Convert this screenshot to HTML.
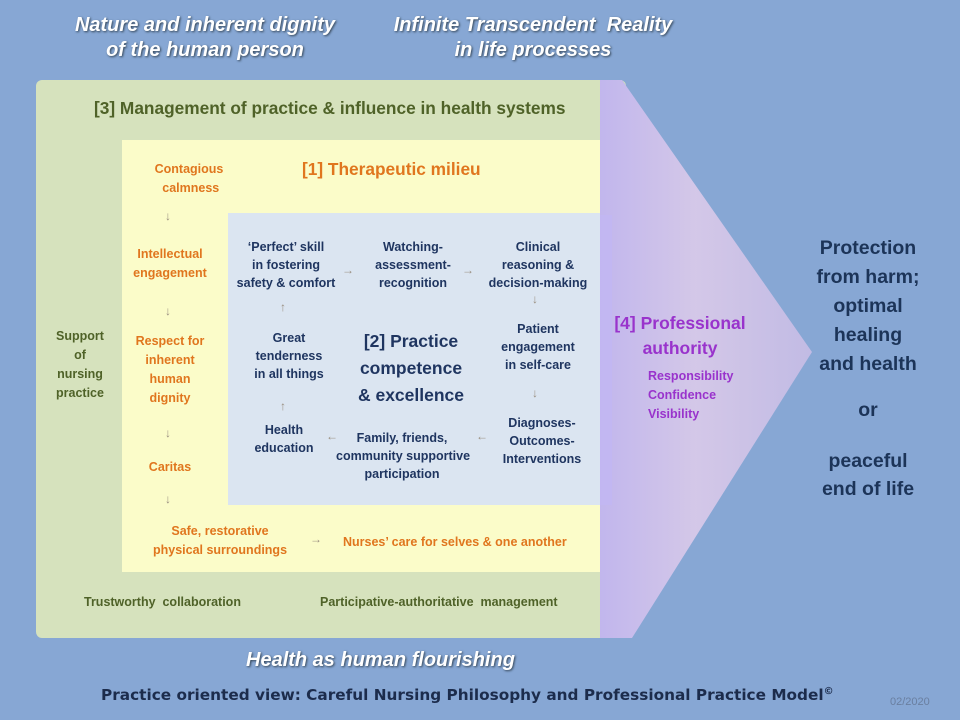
<!DOCTYPE html>
<html><head><meta charset="utf-8"><style>
body{margin:0;width:960px;height:720px;overflow:hidden;background:#87a7d4;font-family:"Liberation Sans",sans-serif;}
.t{position:absolute;text-align:center;font-weight:bold;white-space:nowrap;line-height:1.25}
.w{color:#fff;font-style:italic;font-size:20px;text-shadow:1px 1px 2px #345}
.o{color:#e0761e;font-size:12.5px;line-height:19px}
.n{color:#1f3560;font-size:12.5px;line-height:18px}
.g{color:#4f6228;font-size:12.5px}
.a{position:absolute;color:#9a8f80;font-size:12px}
</style></head><body>
<svg width="960" height="720" style="position:absolute;left:0;top:0">
<defs>
<linearGradient id="pg" x1="0" x2="1" y1="0" y2="0"><stop offset="0" stop-color="#c8b8f0"/><stop offset="0.45" stop-color="#dccbea"/><stop offset="1" stop-color="#c8bde6"/></linearGradient>
</defs>
<rect x="36" y="80" width="590" height="558" rx="6" fill="#d6e2bd"/>
<rect x="122" y="140" width="490" height="432" fill="#fbfcc9"/>
<rect x="228" y="213" width="380" height="292" fill="#dbe5f1"/>
<polygon points="600,80 622,80 812,352 632,638 600,638" fill="#87a7d4"/>
<polygon points="600,80 622,80 812,352 632,638 600,638" fill="url(#pg)" opacity="0.9"/>
<polygon points="600,215 612,215 612,505 600,505" fill="#c2b6f4" opacity="0.7"/>
</svg>
<div class="t w" style="left:40px;top:13px;width:330px">Nature and inherent dignity<br>of the human person</div>
<div class="t w" style="left:368px;top:13px;width:330px">Infinite Transcendent&nbsp; Reality<br>in life processes</div>
<div class="t" style="left:94px;top:98px;color:#4f6228;font-size:17.3px">[3] Management of practice &amp; influence in health systems</div>
<div class="t" style="left:302px;top:159px;color:#e0761e;font-size:17.3px">[1] Therapeutic milieu</div>
<div class="t o" style="left:130px;top:160px;width:118px">Contagious<br>&nbsp;calmness</div>
<div class="a" style="left:165px;top:209px">↓</div>
<div class="t o" style="left:110px;top:245px;width:120px">Intellectual<br>engagement</div>
<div class="a" style="left:165px;top:304px">↓</div>
<div class="t o" style="left:110px;top:332px;width:120px">Respect for<br>inherent<br>human<br>dignity</div>
<div class="a" style="left:165px;top:426px">↓</div>
<div class="t o" style="left:110px;top:458px;width:120px">Caritas</div>
<div class="a" style="left:165px;top:492px">↓</div>
<div class="t o" style="left:140px;top:522px;width:160px">Safe, restorative<br>physical surroundings</div>
<div class="a" style="left:310px;top:532px">→</div>
<div class="t o" style="left:343px;top:533px">Nurses’ care for selves &amp; one another</div>
<div class="t g" style="left:40px;top:327px;width:80px;line-height:19px">Support<br>of<br>nursing<br>practice</div>
<div class="t g" style="left:84px;top:595px">Trustworthy&nbsp; collaboration</div>
<div class="t g" style="left:320px;top:595px">Participative-authoritative&nbsp; management</div>
<div class="t n" style="left:230px;top:238px;width:112px">‘Perfect’ skill<br>in fostering<br>safety &amp; comfort</div>
<div class="a" style="left:342px;top:263px">→</div>
<div class="t n" style="left:358px;top:238px;width:110px">Watching-<br>assessment-<br>recognition</div>
<div class="a" style="left:462px;top:263px">→</div>
<div class="t n" style="left:478px;top:238px;width:120px">Clinical<br>reasoning &amp;<br>decision-making</div>
<div class="a" style="left:532px;top:292px">↓</div>
<div class="t n" style="left:478px;top:320px;width:120px">Patient<br>engagement<br>in self-care</div>
<div class="a" style="left:532px;top:386px">↓</div>
<div class="a" style="left:280px;top:300px">↑</div>
<div class="t n" style="left:234px;top:329px;width:110px">Great<br>tenderness<br>in all things</div>
<div class="t" style="left:345px;top:328px;width:132px;color:#1f3560;font-size:17.5px;line-height:27px">[2] Practice<br>competence<br>&amp; excellence</div>
<div class="a" style="left:280px;top:399px">↑</div>
<div class="t n" style="left:234px;top:421px;width:100px">Health<br>education</div>
<div class="a" style="left:326px;top:429px">←</div>
<div class="t n" style="left:336px;top:429px;width:132px">Family, friends,<br>community supportive<br>participation</div>
<div class="a" style="left:476px;top:429px">←</div>
<div class="t n" style="left:482px;top:414px;width:120px">Diagnoses-<br>Outcomes-<br>Interventions</div>
<div class="t" style="left:605px;top:311px;width:150px;color:#9933cc;font-size:17.5px;line-height:25px">[4] Professional<br>authority</div>
<div class="t" style="left:648px;top:367px;text-align:left;color:#9933cc;font-size:12.5px;line-height:19px">Responsibility<br>Confidence<br>Visibility</div>
<div class="t" style="left:800px;top:234px;width:136px;color:#1c3458;font-size:19.5px;line-height:29px">Protection<br>from harm;<br>optimal<br>healing<br>and health</div>
<div class="t" style="left:800px;top:398px;width:136px;color:#1c3458;font-size:19.5px">or</div>
<div class="t" style="left:800px;top:447px;width:136px;color:#1c3458;font-size:19.5px;line-height:28px">peaceful<br>end of life</div>
<div class="t w" style="left:246px;top:648px">Health as human flourishing</div>
<div class="t" style="left:101px;top:686px;color:#1c2c4c;font-size:15.3px;font-family:'DejaVu Sans',sans-serif">Practice oriented view: Careful Nursing Philosophy and Professional Practice Model<sup style="font-size:10px">©</sup></div>
<div class="t" style="left:890px;top:696px;color:#6a7fa0;font-size:11px;font-weight:normal">02/2020</div>
</body></html>
